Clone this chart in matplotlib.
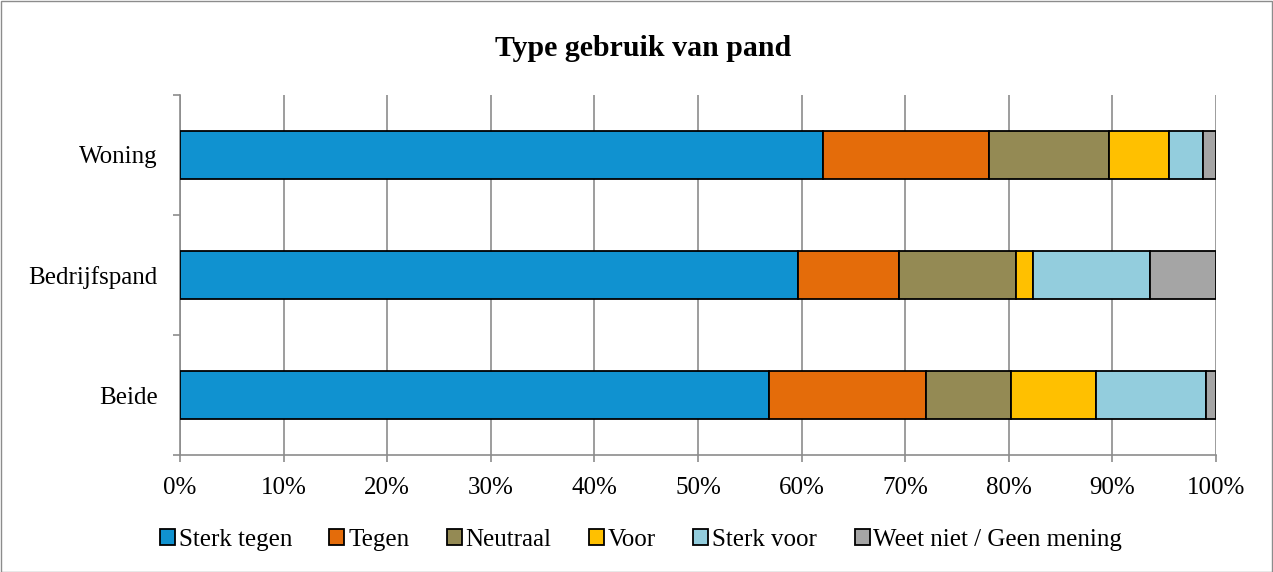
import numpy as np
import matplotlib.pyplot as plt
from matplotlib.patches import Rectangle

categories = ['Beide', 'Bedrijfspand', 'Woning']
series_names = ['Sterk tegen', 'Tegen', 'Neutraal', 'Voor', 'Sterk voor',
                'Weet niet / Geen mening']
# percentages per category (Beide, Bedrijfspand, Woning)
sterk_tegen = [56.9, 59.7, 62.1]
tegen = [15.1, 9.7, 16.0]
neutraal = [8.2, 11.3, 11.55]
voor = [8.2, 1.6, 5.8]
sterk_voor = [10.6, 11.3, 3.3]
weet_niet = [1.0, 6.4, 1.25]
colors = ['#1092D0', '#E46C0A', '#948A54', '#FFC000', '#93CDDD', '#A5A5A5']

plt.rcParams['font.family'] = ['Liberation Serif', 'DejaVu Serif']

fig = plt.figure(figsize=(12.73, 5.72), dpi=100)
ax = fig.add_axes([180 / 1273, 1 - 455 / 572, 1036 / 1273, 360 / 572])

data = np.array([sterk_tegen, tegen, neutraal, voor, sterk_voor, weet_niet])
data = data / data.sum(axis=0) * 100
y = np.arange(len(categories))
left = np.zeros(len(categories))
for name, vals, c in zip(series_names, data, colors):
    ax.barh(y, vals, left=left, height=0.4, color=c, edgecolor='black',
            linewidth=1.3, label=name, zorder=3)
    left += vals

ax.set_xlim(0, 100)
ax.set_ylim(-0.5, 2.5)
ax.set_xticks(np.arange(0, 101, 10))
ax.set_xticklabels([f'{v}%' for v in range(0, 101, 10)], fontsize=18)
ax.xaxis.grid(True, color='#8c8c8c', linewidth=1.2, zorder=0)
ax.tick_params(axis='x', length=5, color='#8c8c8c', width=1.2, pad=11)

ax.set_yticks([-0.5, 0.5, 1.5, 2.5])
ax.set_yticklabels([])
ax.set_yticks(y, minor=True)
ax.set_yticklabels(categories, minor=True, fontsize=18)
ax.tick_params(axis='y', which='major', length=5, color='#8c8c8c', width=1.2)
ax.tick_params(axis='y', which='minor', length=0, pad=16)

for s in ['top', 'right']:
    ax.spines[s].set_visible(False)
for s in ['left', 'bottom']:
    ax.spines[s].set_color('#8c8c8c')
    ax.spines[s].set_linewidth(1.2)

fig.text(643 / 1273, 1 - 48 / 572, 'Type gebruik van pand', ha='center',
         va='center', fontsize=21.5, fontweight='bold')

ax.legend(loc='center', bbox_to_anchor=(0.445, -0.235), ncol=6, frameon=False,
          fontsize=18, handlelength=0.6, handleheight=0.6, handletextpad=0.15,
          columnspacing=1.5)

fig.patches.append(Rectangle((0.5 / 1273, 0.5 / 572), 1 - 1.5 / 1273, 1 - 1.5 / 572,
                             transform=fig.transFigure, fill=False,
                             edgecolor='#8c8c8c', linewidth=1))

fig.savefig('out.png', dpi=100)
